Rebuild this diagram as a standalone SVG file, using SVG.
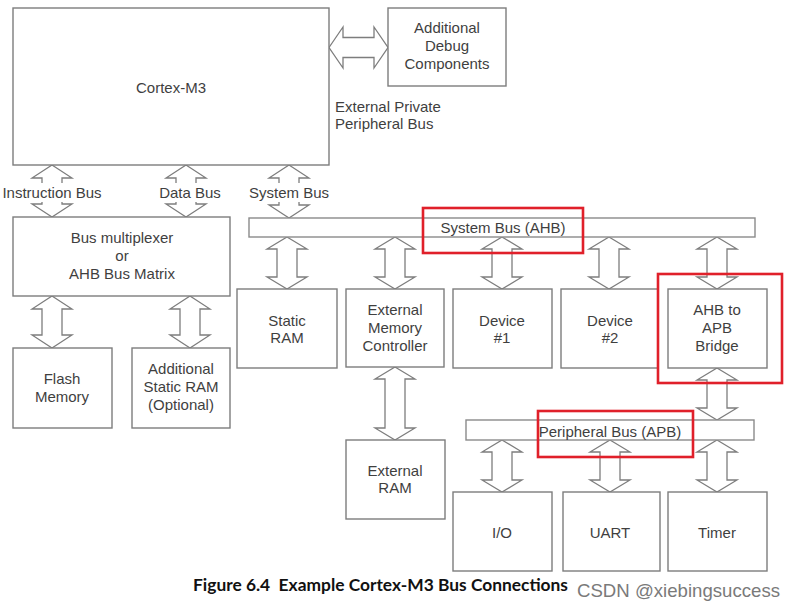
<svg xmlns="http://www.w3.org/2000/svg" width="796" height="609" viewBox="0 0 796 609">
<style>
.box{fill:#fff;stroke:#7d7d7d;stroke-width:1.4}
.bar{fill:#fff;stroke:#8a8a8a;stroke-width:1.4}
.arr{fill:#fff;stroke:#7d7d7d;stroke-width:1.3;stroke-linejoin:miter}
.t{font-family:"Liberation Sans",Arial,sans-serif;font-size:15px;fill:#3f3f3f;text-anchor:middle}
.tl{font-family:"Liberation Sans",Arial,sans-serif;font-size:15px;fill:#3f3f3f}
.red{fill:none;stroke:#e0202a;stroke-width:2.6}
.mask{fill:#fff;stroke:none}
</style>
<rect width="796" height="609" fill="#fff"/>
<g id="connectors">
<path class="arr" d="M329,47.5 L343,27 L343,37.5 L374,37.5 L374,27 L388,47.5 L374,68 L374,57.5 L343,57.5 L343,68 Z"/>
<path class="arr" d="M52,165 L72,178 L62,178 L62,204 L72,204 L52,217 L32,204 L42,204 L42,178 L32,178 Z"/>
<path class="arr" d="M186,165 L206,178 L196,178 L196,204 L206,204 L186,217 L166,204 L176,204 L176,178 L166,178 Z"/>
<path class="arr" d="M289,165 L309,178 L299,178 L299,205 L309,205 L289,218 L269,205 L279,205 L279,178 L269,178 Z"/>
<rect class="mask" x="38" y="183" width="28" height="19"/>
<rect class="mask" x="172" y="183" width="28" height="19"/>
<rect class="mask" x="275" y="183" width="28" height="19"/>
<text class="t" x="52" y="198">Instruction Bus</text>
<text class="t" x="190" y="198">Data Bus</text>
<text class="t" x="289" y="198">System Bus</text>
<path class="arr" d="M52,296 L72,309 L62,309 L62,335 L72,335 L52,348 L32,335 L42,335 L42,309 L32,309 Z"/>
<path class="arr" d="M190,296 L210,309 L200,309 L200,335 L210,335 L190,348 L170,335 L180,335 L180,309 L170,309 Z"/>
<path class="arr" d="M287,237 L307,249 L297,249 L297,277 L307,277 L287,289 L267,277 L277,277 L277,249 L267,249 Z"/>
<path class="arr" d="M395,237 L415,249 L405,249 L405,277 L415,277 L395,289 L375,277 L385,277 L385,249 L375,249 Z"/>
<path class="arr" d="M502,237 L522,249 L512,249 L512,277 L522,277 L502,289 L482,277 L492,277 L492,249 L482,249 Z"/>
<path class="arr" d="M609,237 L629,249 L619,249 L619,277 L629,277 L609,289 L589,277 L599,277 L599,249 L589,249 Z"/>
<path class="arr" d="M717,237 L737,249 L727,249 L727,277 L737,277 L717,289 L697,277 L707,277 L707,249 L697,249 Z"/>
<path class="arr" d="M395,367 L415,379 L405,379 L405,428 L415,428 L395,440 L375,428 L385,428 L385,379 L375,379 Z"/>
<path class="arr" d="M717,368 L737,380 L727,380 L727,408 L737,408 L717,420 L697,408 L707,408 L707,380 L697,380 Z"/>
<path class="arr" d="M502,440 L522,452 L512,452 L512,480 L522,480 L502,492 L482,480 L492,480 L492,452 L482,452 Z"/>
<path class="arr" d="M610,440 L630,452 L620,452 L620,480 L630,480 L610,492 L590,480 L600,480 L600,452 L590,452 Z"/>
<path class="arr" d="M717,440 L737,452 L727,452 L727,480 L737,480 L717,492 L697,480 L707,480 L707,452 L697,452 Z"/>
</g>
<g id="cortex-m3"><rect class="box" x="13" y="8" width="316" height="157"/><text class="t" x="171" y="93">Cortex-M3</text></g>
<g id="debug"><rect class="box" x="388" y="8" width="118" height="78"/><text class="t" x="447" y="33">Additional</text><text class="t" x="447" y="51">Debug</text><text class="t" x="447" y="69">Components</text></g>
<g id="ppb-label"><text class="tl" x="335" y="112">External Private</text><text class="tl" x="335" y="129">Peripheral Bus</text></g>
<g id="bus-matrix"><rect class="box" x="13" y="217" width="217" height="79"/><text class="t" x="122" y="243">Bus multiplexer</text><text class="t" x="122" y="261">or</text><text class="t" x="122" y="279">AHB Bus Matrix</text></g>
<g id="flash"><rect class="box" x="13" y="348" width="99" height="80"/><text class="t" x="62" y="384">Flash</text><text class="t" x="62" y="402">Memory</text></g>
<g id="add-sram"><rect class="box" x="132" y="348" width="98" height="80"/><text class="t" x="181" y="374">Additional</text><text class="t" x="181" y="392">Static RAM</text><text class="t" x="181" y="410">(Optional)</text></g>
<g id="ahb-bus"><rect class="bar" x="249" y="218" width="506" height="19"/><text class="t" x="503" y="233">System Bus (AHB)</text></g>
<g id="static-ram"><rect class="box" x="237" y="289" width="100" height="79"/><text class="t" x="287" y="326">Static</text><text class="t" x="287" y="343">RAM</text></g>
<g id="emc"><rect class="box" x="346" y="289" width="98" height="78"/><text class="t" x="395" y="315">External</text><text class="t" x="395" y="333">Memory</text><text class="t" x="395" y="351">Controller</text></g>
<g id="device1"><rect class="box" x="453" y="289" width="99" height="79"/><text class="t" x="502" y="326">Device</text><text class="t" x="502" y="343">#1</text></g>
<g id="device2"><rect class="box" x="561" y="289" width="97" height="79"/><text class="t" x="610" y="326">Device</text><text class="t" x="610" y="343">#2</text></g>
<g id="bridge"><rect class="box" x="668" y="289" width="99" height="79"/><text class="t" x="717" y="315">AHB to</text><text class="t" x="717" y="333">APB</text><text class="t" x="717" y="351">Bridge</text></g>
<g id="ext-ram"><rect class="box" x="346" y="440" width="99" height="79"/><text class="t" x="395" y="476">External</text><text class="t" x="395" y="493">RAM</text></g>
<g id="apb-bus"><rect class="bar" x="466" y="420" width="288" height="20"/><text class="t" x="610" y="437">Peripheral Bus (APB)</text></g>
<g id="io"><rect class="box" x="453" y="492" width="99" height="79"/><text class="t" x="502" y="538">I/O</text></g>
<g id="uart"><rect class="box" x="563" y="492" width="97" height="79"/><text class="t" x="610" y="538">UART</text></g>
<g id="timer"><rect class="box" x="668" y="492" width="99" height="79"/><text class="t" x="717" y="538">Timer</text></g>
<g id="highlights">
<rect class="red" x="423" y="208" width="160" height="45"/>
<rect class="red" x="658" y="274" width="124" height="109"/>
<rect class="red" x="538" y="411" width="155" height="46"/>
</g>
<g id="caption">
<text x="193" y="591" font-family="Lato,'Open Sans',sans-serif" font-weight="bold" font-size="17" fill="#111" textLength="375" lengthAdjust="spacingAndGlyphs">Figure 6.4&#160; Example Cortex-M3 Bus Connections</text>
<text x="577" y="597" font-family="'Liberation Sans',Arial,sans-serif" font-size="19" fill="#7a7a7a" textLength="203" lengthAdjust="spacingAndGlyphs">CSDN @xiebingsuccess</text>
</g>
</svg>
